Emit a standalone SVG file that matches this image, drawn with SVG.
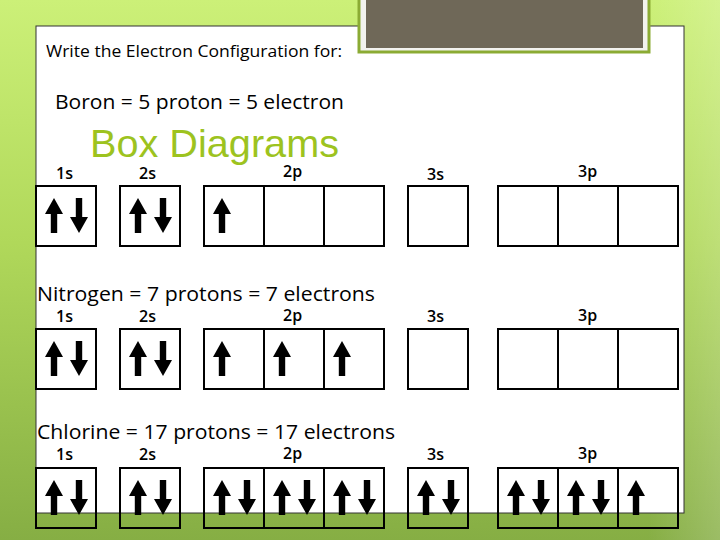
<svg xmlns="http://www.w3.org/2000/svg" xmlns:xlink="http://www.w3.org/1999/xlink" width="720" height="540" viewBox="0 0 720 540">
<defs>
<linearGradient id="bg" x1="0" y1="0" x2="0" y2="1">
<stop offset="0" stop-color="#ccf078"/>
<stop offset="0.45" stop-color="#b0d85a"/>
<stop offset="1" stop-color="#86ae44"/>
</linearGradient>
<linearGradient id="bgr" x1="0" y1="0" x2="1" y2="0">
<stop offset="0" stop-color="#ffffff" stop-opacity="0"/>
<stop offset="0.9" stop-color="#ffffff" stop-opacity="0"/>
<stop offset="1" stop-color="#ffffff" stop-opacity="0.18"/>
</linearGradient>
<path id="up" d="M0 0 L9 16 L3.2 16 L3.2 35 L-3.2 35 L-3.2 16 L-9 16 Z" fill="#000"/>
<path id="dn" d="M0 35 L9 19 L3.2 19 L3.2 0 L-3.2 0 L-3.2 19 L-9 19 Z" fill="#000"/>
<style>
.t{font-family:"Open Sans","Liberation Sans",sans-serif;fill:#000}
.lbl{font-family:"Open Sans","Liberation Sans",sans-serif;font-size:16px;font-weight:600;fill:#000}
.box{fill:none;stroke:#000;stroke-width:2}
</style>
</defs>
<rect x="0" y="0" width="720" height="540" fill="url(#bg)"/>
<rect x="0" y="0" width="720" height="540" fill="url(#bgr)"/>
<rect id="panel" x="36" y="26" width="648" height="487" fill="#fff" stroke="#333" stroke-width="1"/>
<g id="header-box">
<rect x="359" y="-10" width="290" height="62" fill="#f2f2ee" stroke="#8bab34" stroke-width="3"/>
<rect x="366" y="-10" width="277" height="58" fill="#6f6858"/>
</g>
<g id="titles">
<text class="t" x="46" y="57" font-size="17" textLength="296" lengthAdjust="spacingAndGlyphs">Write the Electron Configuration for:</text>
<text class="t" x="55" y="109" font-size="20" font-weight="500" textLength="289" lengthAdjust="spacingAndGlyphs">Boron = 5 proton = 5 electron</text>
<text x="90" y="157" font-family="'Liberation Sans',Arial,sans-serif" font-size="39" fill="#9dc31f" textLength="249" lengthAdjust="spacingAndGlyphs">Box Diagrams</text>
<text class="t" x="37" y="301" font-size="20" font-weight="500" textLength="338" lengthAdjust="spacingAndGlyphs">Nitrogen = 7 protons = 7 electrons</text>
<text class="t" x="37" y="439" font-size="20" font-weight="500" textLength="358" lengthAdjust="spacingAndGlyphs">Chlorine = 17 protons = 17 electrons</text>
</g>
<g id="row-boron">
<text class="lbl" x="56" y="179">1s</text>
<text class="lbl" x="139" y="179">2s</text>
<text class="lbl" x="283" y="177">2p</text>
<text class="lbl" x="427" y="180">3s</text>
<text class="lbl" x="578" y="177">3p</text>
<g id="b-1s"><rect class="box" x="36" y="186" width="60" height="60"/><use xlink:href="#up" x="54" y="198"/><use xlink:href="#dn" x="79" y="198"/></g>
<g id="b-2s"><rect class="box" x="120" y="186" width="60" height="60"/><use xlink:href="#up" x="138" y="198"/><use xlink:href="#dn" x="163" y="198"/></g>
<g id="b-2p"><rect class="box" x="204" y="186" width="60" height="60"/><rect class="box" x="264" y="186" width="60" height="60"/><rect class="box" x="324" y="186" width="60" height="60"/><use xlink:href="#up" x="222" y="198"/></g>
<g id="b-3s"><rect class="box" x="408" y="186" width="60" height="60"/></g>
<g id="b-3p"><rect class="box" x="498" y="186" width="60" height="60"/><rect class="box" x="558" y="186" width="60" height="60"/><rect class="box" x="618" y="186" width="60" height="60"/></g>
</g>
<g id="row-nitrogen">
<text class="lbl" x="56" y="322">1s</text>
<text class="lbl" x="139" y="322">2s</text>
<text class="lbl" x="283" y="321">2p</text>
<text class="lbl" x="427" y="322">3s</text>
<text class="lbl" x="578" y="321">3p</text>
<g id="n-1s"><rect class="box" x="36" y="329" width="60" height="60"/><use xlink:href="#up" x="54" y="341"/><use xlink:href="#dn" x="79" y="341"/></g>
<g id="n-2s"><rect class="box" x="120" y="329" width="60" height="60"/><use xlink:href="#up" x="138" y="341"/><use xlink:href="#dn" x="163" y="341"/></g>
<g id="n-2p"><rect class="box" x="204" y="329" width="60" height="60"/><rect class="box" x="264" y="329" width="60" height="60"/><rect class="box" x="324" y="329" width="60" height="60"/><use xlink:href="#up" x="222" y="341"/><use xlink:href="#up" x="282" y="341"/><use xlink:href="#up" x="342" y="341"/></g>
<g id="n-3s"><rect class="box" x="408" y="329" width="60" height="60"/></g>
<g id="n-3p"><rect class="box" x="498" y="329" width="60" height="60"/><rect class="box" x="558" y="329" width="60" height="60"/><rect class="box" x="618" y="329" width="60" height="60"/></g>
</g>
<g id="row-chlorine">
<text class="lbl" x="56" y="460">1s</text>
<text class="lbl" x="139" y="460">2s</text>
<text class="lbl" x="283" y="459">2p</text>
<text class="lbl" x="427" y="460">3s</text>
<text class="lbl" x="578" y="459">3p</text>
<g id="c-1s"><rect class="box" x="36" y="468" width="60" height="60"/><use xlink:href="#up" x="54" y="480"/><use xlink:href="#dn" x="79" y="480"/></g>
<g id="c-2s"><rect class="box" x="120" y="468" width="60" height="60"/><use xlink:href="#up" x="138" y="480"/><use xlink:href="#dn" x="163" y="480"/></g>
<g id="c-2p"><rect class="box" x="204" y="468" width="60" height="60"/><rect class="box" x="264" y="468" width="60" height="60"/><rect class="box" x="324" y="468" width="60" height="60"/><use xlink:href="#up" x="222" y="480"/><use xlink:href="#dn" x="247" y="480"/><use xlink:href="#up" x="282" y="480"/><use xlink:href="#dn" x="307" y="480"/><use xlink:href="#up" x="342" y="480"/><use xlink:href="#dn" x="367" y="480"/></g>
<g id="c-3s"><rect class="box" x="408" y="468" width="60" height="60"/><use xlink:href="#up" x="426" y="480"/><use xlink:href="#dn" x="451" y="480"/></g>
<g id="c-3p"><rect class="box" x="498" y="468" width="60" height="60"/><rect class="box" x="558" y="468" width="60" height="60"/><rect class="box" x="618" y="468" width="60" height="60"/><use xlink:href="#up" x="516" y="480"/><use xlink:href="#dn" x="541" y="480"/><use xlink:href="#up" x="576" y="480"/><use xlink:href="#dn" x="601" y="480"/><use xlink:href="#up" x="636" y="480"/></g>
</g>
</svg>
